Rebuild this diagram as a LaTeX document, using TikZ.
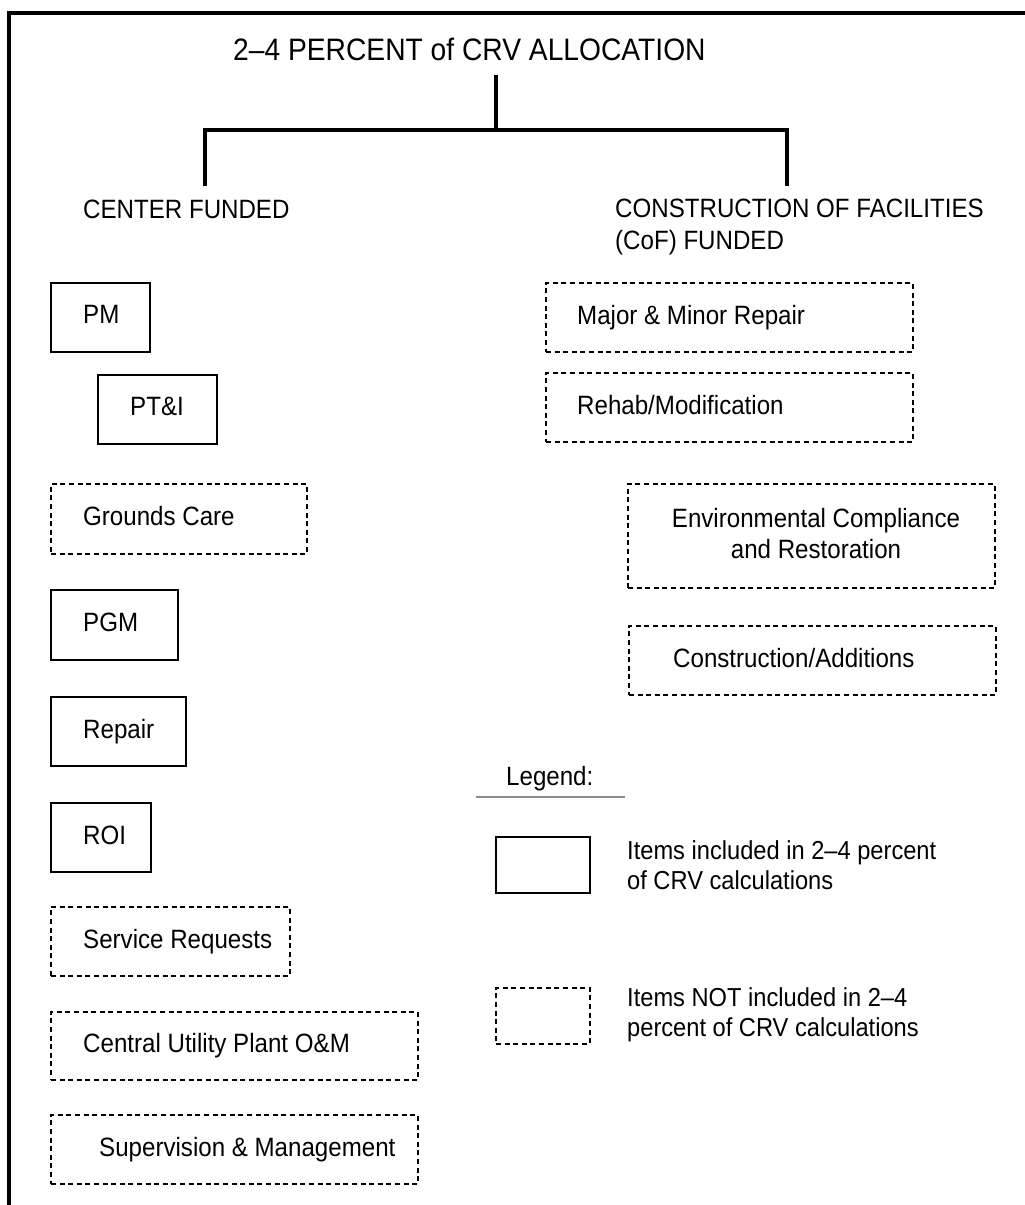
\documentclass[tikz,border=0pt]{standalone}
\usepackage{fontspec}
\setmainfont{Liberation Sans}[FakeStretch=0.91]
\begin{document}
\begin{tikzpicture}[x=1pt,y=-1pt,
  txt/.style={font=\fontsize{26.5}{31}\selectfont, inner sep=0pt, anchor=base west},
  ttl/.style={font=\fontsize{31}{36}\selectfont, inner sep=0pt, anchor=base west},
  incl/.style={draw, line width=1.8pt, rectangle, anchor=north west, inner sep=0pt},
  excl/.style={incl, dash pattern=on 5pt off 3.6pt},
  tree/.style={line width=3.6pt},
  frame/.style={line width=4pt}]
\useasboundingbox (0,0) rectangle (1025,1205);
\fill[white] (0,0) rectangle (1025,1205);

% outer frame (top and left edges)
\draw[frame] (1025,12.7) -- (9.3,12.7) -- (9.3,1205);

% heading and the two branches
\node[ttl] (title) at (233,60) {2–4 PERCENT of CRV ALLOCATION};
\coordinate (top) at (496,75);
\coordinate (bar) at (496,130);
\coordinate (lft) at (205,186);
\coordinate (rgt) at (787,186);
\draw[tree] (top) -- (bar);
\draw[tree] (lft) -- (lft |- bar) -- (rgt |- bar) -- (rgt);

\node[txt] (center) at (83,218) {CENTER FUNDED};
\node[txt, align=left, anchor=north west, font=\fontsize{26.5}{32}\selectfont]
  (cof) at (615,199) {CONSTRUCTION OF FACILITIES\\(CoF) FUNDED};

% center funded items
\node[incl, minimum width=99,  minimum height=69] (pm)    at (50,282)  {};
\node[txt] (pm-t) at (83,323.5) {PM};
\node[incl, minimum width=119, minimum height=69] (pti)   at (97,374)  {};
\node[txt] (pti-t) at (130,415.5) {PT\&I};
\node[excl, minimum width=256, minimum height=70] (gc)    at (50,483)  {};
\node[txt] (gc-t) at (83,525.5) {Grounds Care};
\node[incl, minimum width=127, minimum height=70] (pgm)   at (50,589)  {};
\node[txt] (pgm-t) at (83,631.5) {PGM};
\node[incl, minimum width=135, minimum height=69] (rep)   at (50,696)  {};
\node[txt] (rep-t) at (83,738) {Repair};
\node[incl, minimum width=100, minimum height=69] (roi)   at (50,802)  {};
\node[txt] (roi-t) at (83,844) {ROI};
\node[excl, minimum width=239, minimum height=69] (sr)    at (50,906)  {};
\node[txt] (sr-t) at (83,948) {Service Requests};
\node[excl, minimum width=367, minimum height=68] (cup)   at (50,1011) {};
\node[txt] (cup-t) at (83,1052.5) {Central Utility Plant O\&M};
\node[excl, minimum width=367, minimum height=69] (sm)    at (50,1114) {};
\node[txt] (sm-t) at (99,1156) {Supervision \& Management};

% CoF funded items
\node[excl, minimum width=367, minimum height=69] (mmr)   at (545,282) {};
\node[txt] (mmr-t) at (577,324) {Major \& Minor Repair};
\node[excl, minimum width=367, minimum height=69] (rm)    at (545,372) {};
\node[txt] (rm-t) at (577,414) {Rehab/Modification};
\node[excl, minimum width=367, minimum height=104] (ecr)  at (627,483) {};
\node[txt, align=center, anchor=north, font=\fontsize{26.5}{31}\selectfont]
  (ecr-t) at (816,508) {Environmental Compliance\\and Restoration};
\node[excl, minimum width=367, minimum height=69] (ca)    at (628,625) {};
\node[txt] (ca-t) at (673,667) {Construction/Additions};

% legend
\node[txt] (leg) at (506,785) {Legend:};
\coordinate (ul-a) at (476,797);
\coordinate (ul-b) at (625,797);
\draw[line width=1.5pt, black!45] (ul-a) -- (ul-b);
\node[incl, minimum width=94, minimum height=56] (key-in)  at (495,836) {};
\node[txt, align=left, anchor=north west, font=\fontsize{26}{30}\selectfont]
  (key-in-t) at (627,840.5) {Items included in 2–4 percent\\of CRV calculations};
\node[excl, minimum width=94, minimum height=56] (key-out) at (495,987) {};
\node[txt, align=left, anchor=north west, font=\fontsize{26}{30}\selectfont]
  (key-out-t) at (627,987.5) {Items NOT included in 2–4\\percent of CRV calculations};
\end{tikzpicture}
\end{document}
